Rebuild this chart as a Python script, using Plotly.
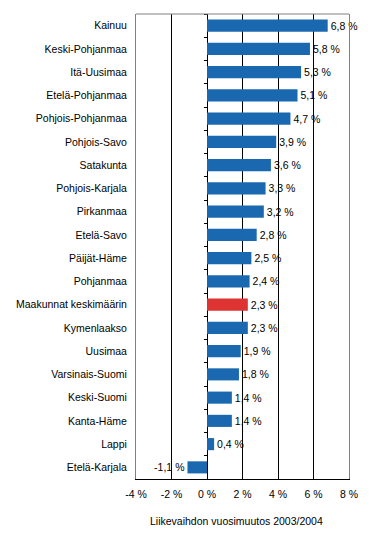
import plotly.graph_objects as go

regions = ["Kainuu", "Keski-Pohjanmaa", "Itä-Uusimaa", "Etelä-Pohjanmaa", "Pohjois-Pohjanmaa",
           "Pohjois-Savo", "Satakunta", "Pohjois-Karjala", "Pirkanmaa", "Etelä-Savo",
           "Päijät-Häme", "Pohjanmaa", "Maakunnat keskimäärin", "Kymenlaakso", "Uusimaa",
           "Varsinais-Suomi", "Keski-Suomi", "Kanta-Häme", "Lappi", "Etelä-Karjala"]
change = [6.8, 5.8, 5.3, 5.1, 4.7, 3.9, 3.6, 3.3, 3.2, 2.8, 2.5, 2.4, 2.3, 2.3, 1.9, 1.8, 1.4, 1.4, 0.4, -1.1]
highlight = "Maakunnat keskimäärin"
x_tick_vals = [-4, -2, 0, 2, 4, 6, 8]
x_tick_labels = ["-4 %", "-2 %", "0 %", "2 %", "4 %", "6 %", "8 %"]
x_title = "Liikevaihdon vuosimuutos 2003/2004"

BLUE = "#1A68B0"
RED = "#DD3333"
FONT = "Liberation Sans, Arial, sans-serif"

colors = [RED if r == highlight else BLUE for r in regions]
labels = [f"{v:.1f}".replace(".", ",") + " %" for v in change]

fig = go.Figure()
fig.add_trace(go.Bar(
    y=regions, x=change, orientation="h",
    marker=dict(color=colors, line=dict(width=0)),
    text=labels, textposition="outside", constraintext="none", cliponaxis=False,
    textfont=dict(family=FONT, size=10.5, color="black"),
    hoverinfo="skip",
))
# invisible helper trace to draw category ticks on the zero line
fig.add_trace(go.Scatter(
    y=regions, x=change, mode="markers", marker=dict(opacity=0),
    yaxis="y2", hoverinfo="skip", showlegend=False,
))

n = len(regions)
fig.update_layout(
    width=369, height=528,
    margin=dict(l=128, r=28, t=6, b=57, autoexpand=False),
    paper_bgcolor="white", plot_bgcolor="white",
    showlegend=False, bargap=0.48,
    font=dict(family=FONT, size=10.5, color="black"),
    xaxis=dict(
        range=[-4, 8], tickvals=x_tick_vals, ticktext=x_tick_labels,
        showgrid=True, gridcolor="black", gridwidth=1,
        zeroline=True, zerolinecolor="black", zerolinewidth=1,
        showline=True, linecolor="black", linewidth=1, mirror=False,
        ticks="outside", ticklen=5, tickcolor="rgba(0,0,0,0)",
        tickfont=dict(family=FONT, size=10.5, color="black"),
        fixedrange=True,
    ),
    yaxis=dict(
        type="category", categoryorder="array", categoryarray=regions,
        range=[n - 0.5, -0.5],
        showgrid=False, zeroline=False,
        showline=True, linecolor="#808080", linewidth=1, mirror=True,
        ticks="outside", ticklen=6, tickcolor="rgba(0,0,0,0)",
        tickfont=dict(family=FONT, size=10.5, color="black"),
        fixedrange=True,
    ),
    yaxis2=dict(
        type="category", categoryorder="array", categoryarray=regions,
        range=[n - 0.5, -0.5], overlaying="y", anchor="free", position=4 / 12,
        showgrid=False, zeroline=False, showline=False, showticklabels=False,
        ticks="outside", ticklen=3, tickcolor="black", tickwidth=1,
        tickson="boundaries", fixedrange=True,
    ),
    shapes=[dict(type="line", xref="paper", yref="paper", x0=0, x1=1, y0=1, y1=1,
                 line=dict(color="#808080", width=1), layer="above")],
    annotations=[dict(text=x_title, xref="paper", yref="paper", x=0.47, y=0,
                      yshift=-42, showarrow=False, xanchor="center", yanchor="middle",
                      font=dict(family=FONT, size=10.5, color="black"))],
)

fig.write_html("out.html")
